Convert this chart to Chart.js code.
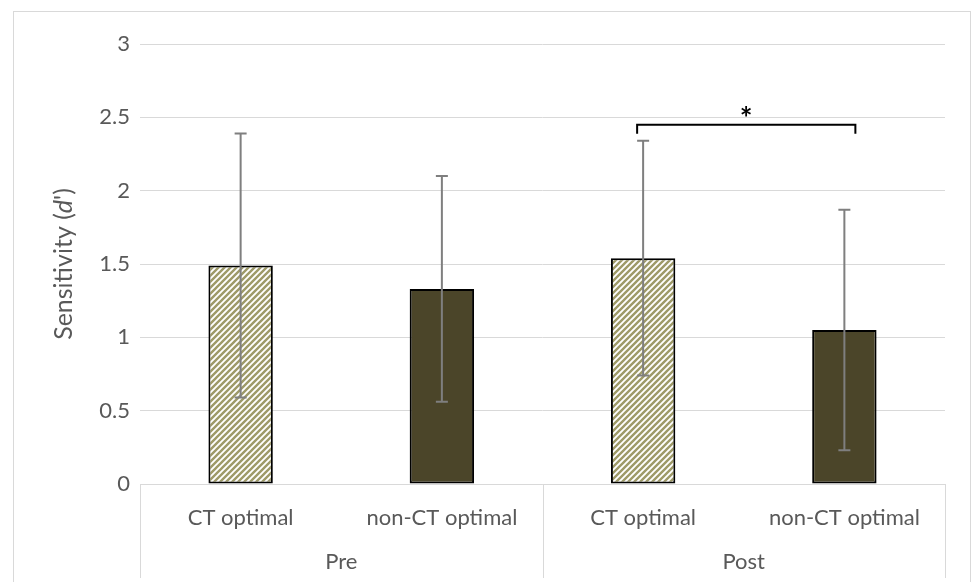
<!DOCTYPE html>
<html>
<head>
<meta charset="utf-8">
<script src="https://cdn.jsdelivr.net/npm/chart.js@4.4.1/dist/chart.umd.min.js"></script>
<style>
  html, body { margin: 0; padding: 0; background: #fff; }
  #wrap { position: relative; width: 974px; height: 582px; }
  #frame { position: absolute; left: 13px; top: 11px; width: 958px; height: 600px; border: 1px solid #d9d9d9; box-sizing: border-box; }
</style>
</head>
<body>
<div id="wrap">
  <div id="frame"></div>
  <canvas id="chart" width="974" height="582"></canvas>
</div>
<script>
// data
const groups = ['Pre', 'Post'];
const categories = ['CT optimal', 'non-CT optimal', 'CT optimal', 'non-CT optimal'];
const means = [1.49, 1.33, 1.54, 1.05];
const errors = [0.90, 0.77, 0.80, 0.82];
const yTicks = [0, 0.5, 1, 1.5, 2, 2.5, 3];
const sigPair = [2, 3];   // bracket between Post bars
const sigLevel = 2.45;

const FONT = 'Lato, "Open Sans", sans-serif';
const TEXT = '#595959';
const GRID = '#d9d9d9';

// striped fill like Excel "wide upward diagonal"
function stripes() {
    const c = document.createElement('canvas');
    c.width = 6; c.height = 6;
    const g = c.getContext('2d');
    g.fillStyle = '#fff';
    g.fillRect(0, 0, 6, 6);
    g.strokeStyle = '#9e9a68';
    g.lineWidth = 2.4;
    g.beginPath();
    g.moveTo(-1, 7); g.lineTo(7, -1);
    g.moveTo(-4, 4); g.lineTo(4, -4);
    g.moveTo(2, 10); g.lineTo(10, 2);
    g.stroke();
    return g.createPattern(c, 'repeat');
}
const hatch = stripes();
const dark = '#4b4529';

const extras = {
    id: 'extras',
    afterDatasetsDraw(chart) {
        const ctx = chart.ctx;
        const x = chart.scales.x, y = chart.scales.y;
        ctx.save();
        // error bars
        ctx.strokeStyle = '#7f7f7f';
        ctx.lineWidth = 2;
        means.forEach((m, i) => {
            const px = x.getPixelForValue(i);
            const top = y.getPixelForValue(m + errors[i]);
            const bot = y.getPixelForValue(m - errors[i]);
            ctx.beginPath();
            ctx.moveTo(px, top); ctx.lineTo(px, bot);
            ctx.moveTo(px - 6, top); ctx.lineTo(px + 6, top);
            ctx.moveTo(px - 6, bot); ctx.lineTo(px + 6, bot);
            ctx.stroke();
        });
        // significance bracket
        const x1 = x.getPixelForValue(sigPair[0]) - 6;
        const x2 = x.getPixelForValue(sigPair[1]) + 11;
        const by = y.getPixelForValue(sigLevel);
        ctx.strokeStyle = '#000';
        ctx.lineWidth = 2;
        ctx.beginPath();
        ctx.moveTo(x1, by + 9); ctx.lineTo(x1, by); ctx.lineTo(x2, by); ctx.lineTo(x2, by + 9);
        ctx.stroke();
        ctx.fillStyle = '#000';
        ctx.font = 'bold 30px ' + FONT;
        ctx.textAlign = 'center';
        ctx.textBaseline = 'middle';
        ctx.fillText('*', (x1 + x2) / 2, by - 5);
        ctx.restore();
    },
    afterDraw(chart) {
        const ctx = chart.ctx;
        const x = chart.scales.x;
        const area = chart.chartArea;
        ctx.save();
        // axis line and group separators
        ctx.strokeStyle = GRID;
        ctx.lineWidth = 1;
        ctx.beginPath();
        ctx.moveTo(area.left, area.bottom + 0.5); ctx.lineTo(area.right, area.bottom + 0.5);
        const edges = [area.left, (x.getPixelForValue(1) + x.getPixelForValue(2)) / 2, area.right];
        edges.forEach(e => {
            ctx.moveTo(Math.round(e) + 0.5, area.bottom);
            ctx.lineTo(Math.round(e) + 0.5, 578);
        });
        ctx.stroke();
        // group labels
        ctx.fillStyle = TEXT;
        ctx.font = '22px ' + FONT;
        ctx.textAlign = 'center';
        ctx.textBaseline = 'middle';
        groups.forEach((g, i) => {
            ctx.fillText(g, (edges[i] + edges[i + 1]) / 2, 562);
        });
        // y title with italic d
        ctx.translate(64, (area.top + area.bottom) / 2);
        ctx.rotate(-Math.PI / 2);
        const parts = [['Sensitivity (', '25px '], ['d', 'italic 25px '], ["')", '25px ']];
        let w = 0;
        parts.forEach(p => { ctx.font = p[1] + FONT; w += ctx.measureText(p[0]).width; });
        let cx = -w / 2;
        ctx.textAlign = 'left';
        parts.forEach(p => {
            ctx.font = p[1] + FONT;
            ctx.fillText(p[0], cx, 0);
            cx += ctx.measureText(p[0]).width;
        });
        ctx.restore();
    }
};

new Chart(document.getElementById('chart'), {
    type: 'bar',
    data: {
        labels: categories,
        datasets: [{
            data: means,
            backgroundColor: [hatch, dark, hatch, dark],
            borderColor: '#000',
            borderWidth: 2,
            borderSkipped: false,
            categoryPercentage: 0.32,
            barPercentage: 1
        }]
    },
    options: {
        responsive: false,
        animation: false,
        layout: { padding: { top: 44, right: 29, left: 0, bottom: 0 } },
        plugins: { legend: { display: false }, tooltip: { enabled: false } },
        scales: {
            x: {
                grid: { display: false },
                border: { display: false },
                ticks: { color: TEXT, font: { family: FONT, size: 22 }, padding: 13, maxRotation: 0 },
                afterFit: s => { s.height = 98; }
            },
            y: {
                min: 0, max: 3,
                afterBuildTicks: s => { s.ticks = yTicks.map(v => ({ value: v })); },
                grid: { color: GRID, drawTicks: false },
                border: { display: false },
                ticks: { color: TEXT, font: { family: FONT, size: 22 }, padding: 10, callback: v => String(v) },
                afterFit: s => { s.width = 140; }
            }
        }
    },
    plugins: [extras]
});
</script>
</body>
</html>
